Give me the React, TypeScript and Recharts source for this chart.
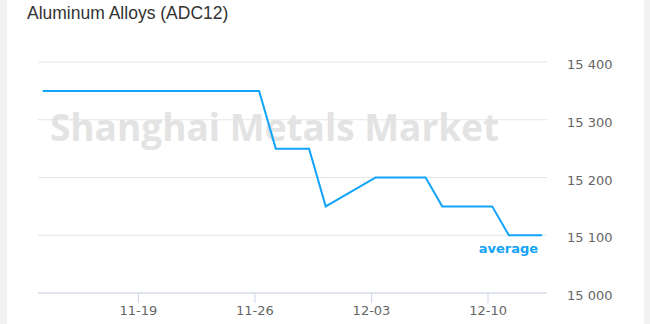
import { LineChart, Line, XAxis, YAxis, CartesianGrid, LabelList, Customized } from 'recharts';

// SMM spot price, ADC12 aluminium alloy, daily (weekdays)
const dates = [
  '2018-11-13', '2018-11-14', '2018-11-15', '2018-11-16', '2018-11-19',
  '2018-11-20', '2018-11-21', '2018-11-22', '2018-11-23', '2018-11-26',
  '2018-11-27', '2018-11-28', '2018-11-29', '2018-11-30', '2018-12-03',
  '2018-12-04', '2018-12-05', '2018-12-06', '2018-12-07', '2018-12-10',
  '2018-12-11', '2018-12-12', '2018-12-13',
];
const prices = [
  15350, 15350, 15350, 15350, 15350,
  15350, 15350, 15350, 15350, 15350,
  15250, 15250, 15250, 15150, 15200,
  15200, 15200, 15200, 15150, 15150,
  15100, 15100, 15100,
];
const tickDates = ['2018-11-19', '2018-11-26', '2018-12-03', '2018-12-10'];
const priceTicks = [15000, 15100, 15200, 15300, 15400];

const DAY = 86400000;
const TICK_SHIFT = 0.25 * DAY; // axis labels sit a quarter day before the points

const data = dates.map((d, i) => ({ t: Date.parse(d), price: prices[i] }));
const xTicks = tickDates.map((d) => Date.parse(d) - TICK_SHIFT);
const xDomain = [data[0].t - 0.28 * DAY, data[data.length - 1].t + 0.29 * DAY];

const BLUE = '#12a3fa';
const AXIS_FONT = '"DejaVu Sans", Verdana, sans-serif';

const fmtDate = (v: number) => {
  const d = new Date(v + TICK_SHIFT);
  const mm = String(d.getUTCMonth() + 1).padStart(2, '0');
  const dd = String(d.getUTCDate()).padStart(2, '0');
  return `${mm}-${dd}`;
};

const fmtPrice = (v: number) => {
  const s = String(v);
  return s.slice(0, s.length - 3) + ' ' + s.slice(-3);
};

const PriceTick = (props: any) => {
  const { x, y, payload } = props;
  return (
    <text x={x} y={y + 7} fill="#666" fontSize={13} fontFamily={AXIS_FONT} textAnchor="start">
      {fmtPrice(payload.value)}
    </text>
  );
};

const Decorations = () => (
  <g>
    <text x={27} y={18.5} fontSize={17.5} fill="#333" fontFamily='"Liberation Sans", Arial, sans-serif'>
      Aluminum Alloys (ADC12)
    </text>
    <text
      x={274.5}
      y={140.5}
      fontSize={37}
      fontWeight={700}
      fill="#e3e3e3"
      textAnchor="middle"
      fontFamily='"Open Sans", sans-serif'
    >
      Shanghai Metals Market
    </text>
  </g>
);

const SeriesName = (props: any) => {
  const { x, y, index } = props;
  if (index !== data.length - 1) return null;
  return (
    <text
      x={x - 4}
      y={y + 17.5}
      fill={BLUE}
      fontSize={13}
      fontWeight={700}
      fontFamily={AXIS_FONT}
      textAnchor="end"
    >
      average
    </text>
  );
};

export default function App() {
  return (
    <div style={{ position: 'fixed', left: 0, top: 0, width: 650, height: 324, background: '#f2f2f2' }}>
      <div style={{ position: 'absolute', left: 7, top: 0, width: 637, height: 324, background: '#fff' }} />
      <div style={{ position: 'absolute', left: 0, top: 0 }}>
        <LineChart width={650} height={324} data={data} margin={{ top: 62, right: 23, bottom: 0, left: 38 }}>
          <CartesianGrid vertical={false} stroke="#e6e6e6" />
          <Customized component={Decorations} />
          <XAxis
            type="number"
            dataKey="t"
            domain={xDomain}
            ticks={xTicks}
            tickFormatter={fmtDate}
            height={31}
            tickSize={10}
            tickMargin={2.5}
            stroke="#ccd6eb"
            tick={{ fill: '#666', fontSize: 13, fontFamily: AXIS_FONT }}
            allowDataOverflow
          />
          <YAxis
            orientation="right"
            type="number"
            domain={[15000, 15400]}
            ticks={priceTicks}
            width={80}
            axisLine={false}
            tickLine={false}
            tickSize={0}
            tickMargin={20}
            tick={<PriceTick />}
          />
          <Line
            type="linear"
            dataKey="price"
            stroke={BLUE}
            strokeWidth={2}
            dot={false}
            activeDot={false}
            isAnimationActive={false}
          >
            <LabelList dataKey="price" content={<SeriesName />} />
          </Line>
        </LineChart>
      </div>
    </div>
  );
}
